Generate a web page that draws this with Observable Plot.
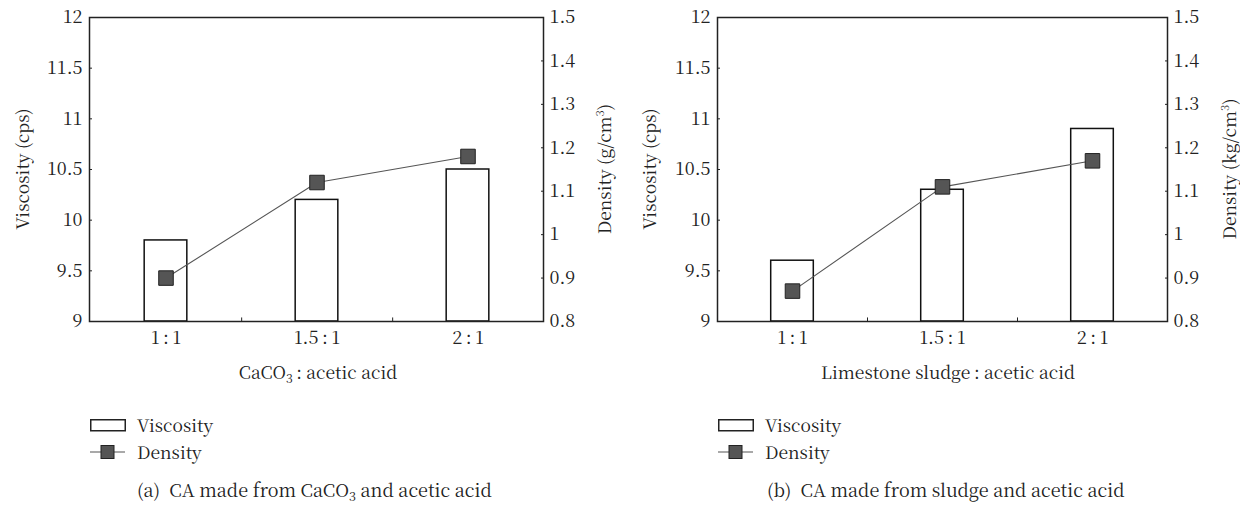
<!DOCTYPE html>
<html><head><meta charset="utf-8">
<script src="https://cdn.jsdelivr.net/npm/d3@7"></script>
<script src="https://cdn.jsdelivr.net/npm/@observablehq/plot@0.6"></script>
<style>
body{margin:0;background:#fff;font-family:"Noto Serif CJK SC","Liberation Serif",serif;color:#222}
#wrap{position:relative;width:1240px;height:506px;overflow:hidden}
.panel{position:absolute;top:0;width:620px;height:506px}
.panel svg{position:absolute;left:0;top:0}
.panel svg text{font-family:"Noto Serif CJK SC","Liberation Serif",serif}
.t{position:absolute;white-space:nowrap;font-size:17.5px;line-height:1;font-family:"Noto Serif CJK SC","Liberation Serif",serif}
.c{transform:translate(-50%,-50%)}
.r{transform:translate(-50%,-50%) rotate(-90deg)}
sub{font-size:0.7em;vertical-align:-0.3em;line-height:0}
sup{font-size:0.65em;vertical-align:0.6em;line-height:0}
.lg{position:absolute}
</style></head>
<body><div id="wrap"></div>
<script>
const categories = ["1\u2009:\u20091", "1.5\u2009:\u20091", "2\u2009:\u20091"];
const viscosityA = [9.8, 10.2, 10.5];
const densityA = [0.90, 1.12, 1.18];
const viscosityB = [9.6, 10.3, 10.9];
const densityB = [0.87, 1.11, 1.17];
const viscTicks = [9, 9.5, 10, 10.5, 11, 11.5, 12];
const densTicks = [0.8, 0.9, 1, 1.1, 1.2, 1.3, 1.4, 1.5];
const viscDomain = [9, 12];
const densDomain = [0.8, 1.5];
const FONT = '"Noto Serif CJK SC","Liberation Serif",serif';

const toV = d => viscDomain[0] + (d - densDomain[0]) * (viscDomain[1] - viscDomain[0]) / (densDomain[1] - densDomain[0]);
const fromV = v => densDomain[0] + (v - viscDomain[0]) * (densDomain[1] - densDomain[0]) / (viscDomain[1] - viscDomain[0]);

function panel(cfg) {
  const W = 620, H = 345;
  const rows = categories.map((c, i) => ({cat: c, visc: cfg.visc[i], dens: cfg.dens[i]}));
  const step = (W - cfg.ml - cfg.mr) / categories.length;
  const plot = Plot.plot({
    width: W, height: H,
    marginLeft: cfg.ml, marginRight: cfg.mr, marginTop: 17, marginBottom: 24,
    style: {fontFamily: FONT, fontSize: "18px", color: "#222", background: "transparent", overflow: "visible"},
    x: {domain: categories, padding: 0, label: null},
    y: {domain: viscDomain, label: null},
    marks: [
      Plot.barY(rows, {x: "cat", y1: viscDomain[0], y2: "visc", fill: "white", stroke: "#111", strokeWidth: 1.5, insetLeft: step * 0.358, insetRight: step * 0.358}),
      Plot.line(rows, {x: "cat", y: d => toV(d.dens), stroke: "#555", strokeWidth: 1.1}),
      Plot.dot(rows, {x: "cat", y: d => toV(d.dens), symbol: "square", r: 8.2, fill: "#555", stroke: "#222", strokeWidth: 1}),
      Plot.axisX({tickSize: 0, tickPadding: 10, label: null, fontSize: 18}),
      Plot.ruleX(categories.slice(0, -1), {x: d => d, y1: viscDomain[0], y2: viscDomain[0] + 0.035, dx: step / 2, stroke: "#222", strokeWidth: 1}),
      Plot.axisY(viscTicks, {anchor: "left", tickSize: -3, tickPadding: 10, label: null, tickFormat: d => String(d), fontSize: 18}),
      Plot.axisY(densTicks.map(toV), {anchor: "right", tickSize: -3, tickPadding: 9, label: null, tickFormat: v => String(Math.round(fromV(v) * 10) / 10), fontSize: 18}),
      Plot.frame({stroke: "#222", strokeWidth: 1.5})
    ]
  });
  const div = document.createElement("div");
  div.className = "panel";
  div.style.left = cfg.left + "px";
  div.appendChild(plot);
  const add = (html, cls, x, y, extra) => {
    const e = document.createElement("div");
    e.className = "t " + cls;
    e.style.left = x + "px"; e.style.top = y + "px";
    if (extra) Object.assign(e.style, extra);
    e.innerHTML = html;
    div.appendChild(e);
  };
  add(cfg.ylab, "r", cfg.ylx, 169);
  add(cfg.y2lab, "r", cfg.y2lx, 169);
  add(cfg.xlab, "c", cfg.xlx, 372);
  const lx = cfg.lgx;
  const lg = document.createElement("div");
  lg.className = "lg";
  lg.style.left = lx + "px"; lg.style.top = "410px";
  lg.innerHTML = `<svg width="40" height="56" style="display:block">
    <rect x="0.75" y="9.75" width="34.5" height="11" fill="white" stroke="#222" stroke-width="1.5"/>
    <line x1="0" x2="35" y1="42" y2="42" stroke="#555" stroke-width="1.2"/>
    <rect x="11" y="35.5" width="13" height="13" fill="#555" stroke="#222" stroke-width="1"/>
  </svg>`;
  div.appendChild(lg);
  add("Viscosity", "", lx + 47, 425, {transform: "translateY(-50%)"});
  add("Density", "", lx + 47, 452, {transform: "translateY(-50%)"});
  add(cfg.caption, "", cfg.capx, 489, {transform: "translateY(-50%)", fontSize: "18px"});
  document.getElementById("wrap").appendChild(div);
}

panel({left: 0, ml: 89, mr: 77, visc: viscosityA, dens: densityA,
  ylab: "Viscosity (cps)", ylx: 22,
  y2lab: "Density (g/cm<sup>3</sup>)", y2lx: 604,
  xlab: "CaCO<sub>3</sub>\u2009: acetic acid", xlx: 318,
  lgx: 90, caption: "(a)&nbsp; CA made from CaCO<sub>3</sub> and acetic acid", capx: 137});
panel({left: 620, ml: 97, mr: 73, visc: viscosityB, dens: densityB,
  ylab: "Viscosity (cps)", ylx: 29,
  y2lab: "Density (kg/cm<sup>3</sup>)", y2lx: 609,
  xlab: "Limestone sludge\u2009: acetic acid", xlx: 328,
  lgx: 98, caption: "(b)&nbsp; CA made from sludge and acetic acid", capx: 147});
</script></body></html>
